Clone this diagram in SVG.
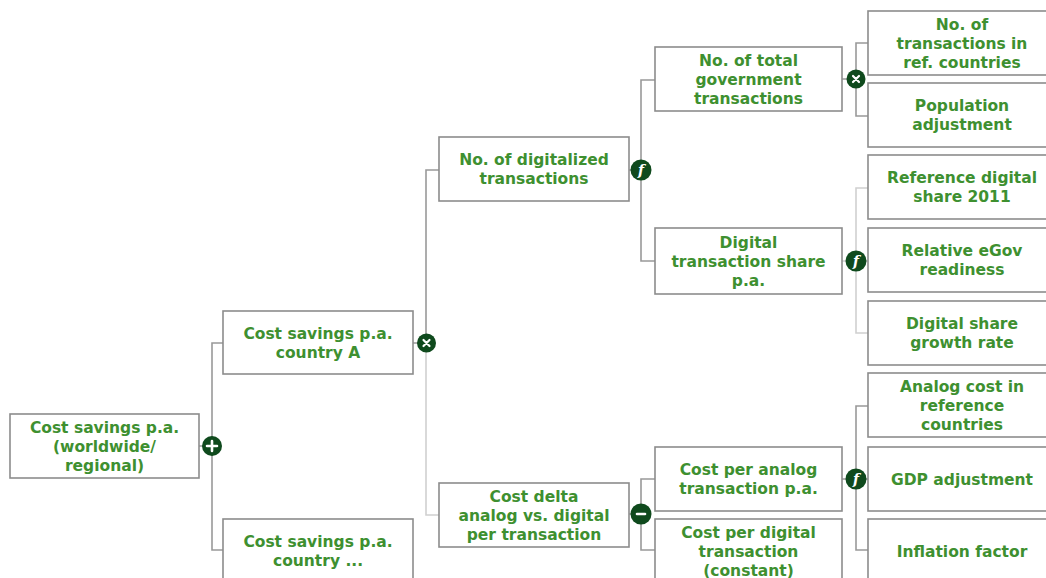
<svg xmlns="http://www.w3.org/2000/svg" width="1046" height="578" viewBox="0 0 1046 578">
<style>
.box{fill:#ffffff;stroke:#8c8c8c;stroke-width:1.6}
.lbl{font-family:"DejaVu Sans","Liberation Sans",sans-serif;font-weight:bold;font-size:15.5px;fill:#3e9030;text-anchor:middle}
.c{fill:none;stroke:#999999;stroke-width:1.6}
.cl{fill:none;stroke:#d0d0d0;stroke-width:1.6}
.op{fill:#0f4a1d}
.sym{stroke:#ffffff;stroke-width:2.6;stroke-linecap:round;fill:none}
.fx{font-family:"DejaVu Serif","Liberation Serif",serif;font-style:italic;font-weight:bold;font-size:14px;fill:#ffffff;text-anchor:middle}
</style>
<rect width="1046" height="578" fill="#ffffff"/>
<g id="connectors">
<path class="c" d="M199,446 H212 M223,343 H212 V550 H223"/>
<path class="c" d="M413,343 H426 V170 H439"/>
<path class="cl" d="M426,343 V515 H439"/>
<path class="c" d="M629,170 H641 M655,80 H641 V261 H655"/>
<path class="c" d="M629,514 H641 M655,479 H641 V550 H655"/>
<path class="c" d="M842,79 H856 M868,43 H856 V116 H868"/>
<path class="cl" d="M842,261 H868 M868,188 H856 V333 H868"/>
<path class="c" d="M842,479 H868 M868,406 H856 V550 H868"/>
</g>
<g id="n-root"><rect class="box" x="10" y="414" width="189" height="64"/>
<text class="lbl"><tspan x="104.5" y="432.5">Cost savings p.a.</tspan><tspan x="104.5" y="451.5">(worldwide/</tspan><tspan x="104.5" y="470.5">regional)</tspan></text></g>
<g id="n-countryA"><rect class="box" x="223" y="311" width="190" height="63"/>
<text class="lbl"><tspan x="318" y="338.5">Cost savings p.a.</tspan><tspan x="318" y="357.5">country A</tspan></text></g>
<g id="n-countryX"><rect class="box" x="223" y="519" width="190" height="70"/>
<text class="lbl"><tspan x="318" y="547">Cost savings p.a.</tspan><tspan x="318" y="566">country ...</tspan></text></g>
<g id="n-digitalized"><rect class="box" x="439" y="137" width="190" height="64"/>
<text class="lbl"><tspan x="534" y="165">No. of digitalized</tspan><tspan x="534" y="184">transactions</tspan></text></g>
<g id="n-costdelta"><rect class="box" x="439" y="483" width="190" height="64"/>
<text class="lbl"><tspan x="534" y="501.5">Cost delta</tspan><tspan x="534" y="520.5">analog vs. digital</tspan><tspan x="534" y="539.5">per transaction</tspan></text></g>
<g id="n-totalgov"><rect class="box" x="655" y="47" width="187" height="64"/>
<text class="lbl"><tspan x="748.5" y="65.5">No. of total</tspan><tspan x="748.5" y="84.5">government</tspan><tspan x="748.5" y="103.5">transactions</tspan></text></g>
<g id="n-digshare"><rect class="box" x="655" y="228" width="187" height="66"/>
<text class="lbl"><tspan x="748.5" y="247.5">Digital</tspan><tspan x="748.5" y="266.5">transaction share</tspan><tspan x="748.5" y="285.5">p.a.</tspan></text></g>
<g id="n-costanalog"><rect class="box" x="655" y="447" width="187" height="64"/>
<text class="lbl"><tspan x="748.5" y="475">Cost per analog</tspan><tspan x="748.5" y="494">transaction p.a.</tspan></text></g>
<g id="n-costdigital"><rect class="box" x="655" y="519" width="187" height="70"/>
<text class="lbl"><tspan x="748.5" y="537.5">Cost per digital</tspan><tspan x="748.5" y="556.5">transaction</tspan><tspan x="748.5" y="575.5">(constant)</tspan></text></g>
<g id="n-reftrans"><rect class="box" x="868" y="11" width="188" height="64"/>
<text class="lbl"><tspan x="962" y="29.5">No. of</tspan><tspan x="962" y="48.5">transactions in</tspan><tspan x="962" y="67.5">ref. countries</tspan></text></g>
<g id="n-population"><rect class="box" x="868" y="83" width="188" height="64"/>
<text class="lbl"><tspan x="962" y="111">Population</tspan><tspan x="962" y="130">adjustment</tspan></text></g>
<g id="n-refshare"><rect class="box" x="868" y="155" width="188" height="64"/>
<text class="lbl"><tspan x="962" y="183">Reference digital</tspan><tspan x="962" y="202">share 2011</tspan></text></g>
<g id="n-egov"><rect class="box" x="868" y="228" width="188" height="64"/>
<text class="lbl"><tspan x="962" y="256">Relative eGov</tspan><tspan x="962" y="275">readiness</tspan></text></g>
<g id="n-growth"><rect class="box" x="868" y="301" width="188" height="64"/>
<text class="lbl"><tspan x="962" y="329">Digital share</tspan><tspan x="962" y="348">growth rate</tspan></text></g>
<g id="n-analogref"><rect class="box" x="868" y="373" width="188" height="64"/>
<text class="lbl"><tspan x="962" y="391.5">Analog cost in</tspan><tspan x="962" y="410.5">reference</tspan><tspan x="962" y="429.5">countries</tspan></text></g>
<g id="n-gdp"><rect class="box" x="868" y="447" width="188" height="64"/>
<text class="lbl"><tspan x="962" y="484.5">GDP adjustment</tspan></text></g>
<g id="n-inflation"><rect class="box" x="868" y="519" width="188" height="70"/>
<text class="lbl"><tspan x="962" y="556.5">Inflation factor</tspan></text></g>
<g id="operators">
<g id="op-plus"><circle class="op" cx="212" cy="446" r="10"/><path class="sym" d="M207,446 H217 M212,441 V451"/></g>
<g id="op-times1"><circle class="op" cx="426.5" cy="343" r="9.5"/><path class="sym" style="stroke-width:2.2" d="M423.5,340 L429.5,346 M429.5,340 L423.5,346"/></g>
<g id="op-f1"><circle class="op" cx="641" cy="170" r="10.5"/><text class="fx" x="641" y="175">f</text></g>
<g id="op-minus"><circle class="op" cx="641" cy="514" r="10.5"/><path class="sym" d="M637,514 H645"/></g>
<g id="op-times2"><circle class="op" cx="856" cy="79" r="9.5"/><path class="sym" style="stroke-width:2.2" d="M853,76 L859,82 M859,76 L853,82"/></g>
<g id="op-f2"><circle class="op" cx="856" cy="261" r="10.5"/><text class="fx" x="856" y="266">f</text></g>
<g id="op-f3"><circle class="op" cx="856" cy="479" r="10.5"/><text class="fx" x="856" y="484">f</text></g>
</g>
</svg>
